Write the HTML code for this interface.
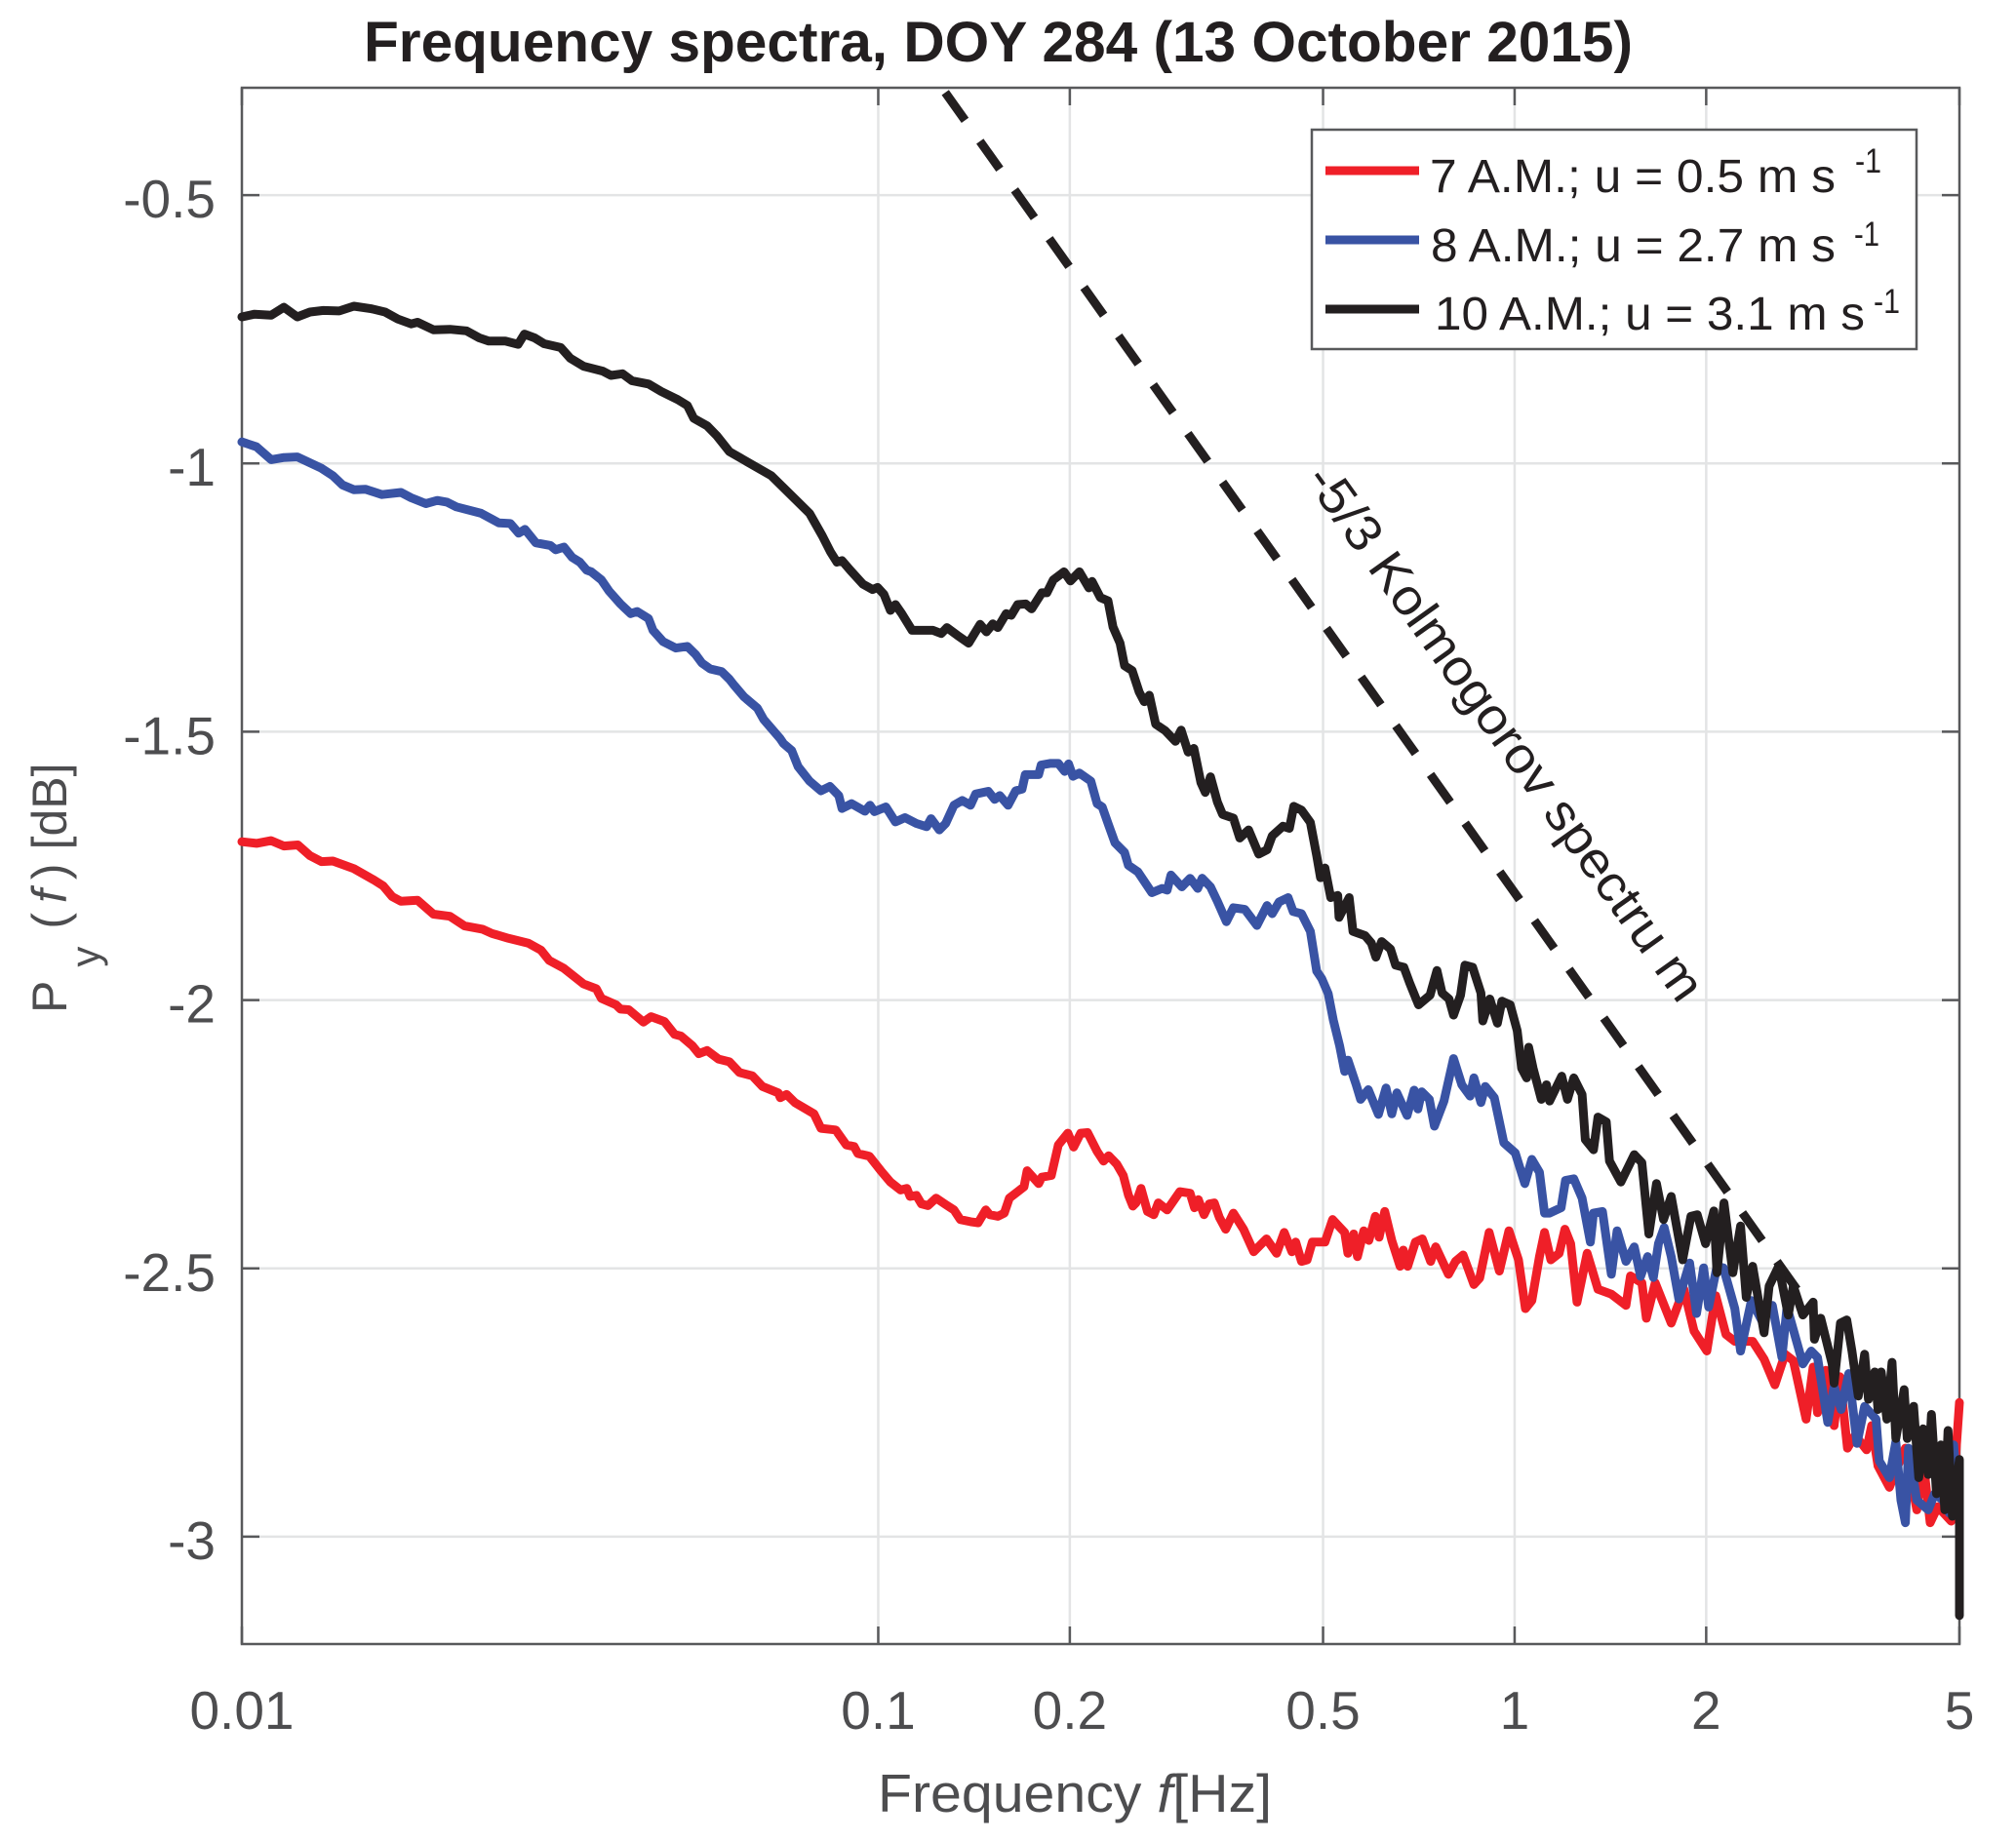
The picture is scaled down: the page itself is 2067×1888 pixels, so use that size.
<!DOCTYPE html>
<html lang="en">
<head>
<meta charset="utf-8">
<title>Frequency spectra, DOY 284</title>
<style>
html,body{margin:0;padding:0;background:#fff;}
svg{display:block;font-family:"Liberation Sans",sans-serif;}
</style>
</head>
<body>
<svg id="chart" xmlns="http://www.w3.org/2000/svg" width="2067" height="1888" viewBox="0 0 2067 1888">
<rect x="0" y="0" width="2067" height="1888" fill="#ffffff"/>
<text x="373" y="63" font-size="58" font-weight="bold" fill="#231f20" textLength="1301" lengthAdjust="spacingAndGlyphs">Frequency spectra, DOY 284 (13 October 2015)</text>
<g id="grid"></g>
<g id="axes"></g>
<g id="series"></g>
<text transform="translate(1337 492) rotate(54.5)" font-size="52" fill="#231f20" textLength="662" lengthAdjust="spacingAndGlyphs">-5/3 Kolmogorov spectru m</text>
<text x="900" y="1858" font-size="55" fill="#4d4d4f" textLength="404" lengthAdjust="spacingAndGlyphs">Frequency <tspan font-style="italic">f</tspan>[Hz]</text>
<text transform="translate(68 1039) rotate(-90)" font-size="50" fill="#4d4d4f">P<tspan dx="14" dy="34" font-size="42">y</tspan><tspan dx="18" dy="-34">(</tspan><tspan dx="10" font-style="italic">f</tspan><tspan dx="10">)</tspan><tspan dx="14">[dB]</tspan></text>
<g>
  <rect x="1345" y="133" width="620" height="225" fill="#ffffff" stroke="#58595b" stroke-width="2.5"/>
  <line x1="1359" x2="1455" y1="175" y2="175" stroke="#ef1f28" stroke-width="9"/>
  <line x1="1359" x2="1455" y1="246" y2="246" stroke="#3953a4" stroke-width="9"/>
  <line x1="1359" x2="1455" y1="317" y2="317" stroke="#231f20" stroke-width="9"/>
  <text x="1466" y="197" font-size="48" fill="#231f20" textLength="416" lengthAdjust="spacingAndGlyphs">7 A.M.; u = 0.5 m s</text>
  <text x="1902" y="177" font-size="35" fill="#231f20" textLength="27" lengthAdjust="spacingAndGlyphs">-1</text>
  <text x="1467" y="268" font-size="48" fill="#231f20" textLength="415" lengthAdjust="spacingAndGlyphs">8 A.M.; u = 2.7 m s</text>
  <text x="1901" y="252" font-size="35" fill="#231f20" textLength="26" lengthAdjust="spacingAndGlyphs">-1</text>
  <text x="1471" y="338" font-size="48" fill="#231f20" textLength="441" lengthAdjust="spacingAndGlyphs">10 A.M.; u = 3.1 m s</text>
  <text x="1921" y="321" font-size="35" fill="#231f20" textLength="27" lengthAdjust="spacingAndGlyphs">-1</text>
</g>
</svg>
<script>
// Each pair: [log10 of frequency in Hz, Py(f) in dB]
const spectrum7am = [[-2.000,-1.705],[-1.977,-1.708],[-1.954,-1.703],[-1.934,-1.713],[-1.912,-1.711],[-1.893,-1.731],[-1.875,-1.742],[-1.857,-1.741],[-1.824,-1.755],[-1.793,-1.776],[-1.778,-1.787],[-1.764,-1.807],[-1.750,-1.816],[-1.724,-1.814],[-1.699,-1.840],[-1.673,-1.844],[-1.650,-1.862],[-1.622,-1.868],[-1.607,-1.876],[-1.581,-1.885],[-1.550,-1.894],[-1.530,-1.907],[-1.517,-1.926],[-1.494,-1.941],[-1.463,-1.970],[-1.443,-1.979],[-1.435,-1.997],[-1.412,-2.009],[-1.405,-2.017],[-1.392,-2.018],[-1.369,-2.041],[-1.357,-2.031],[-1.336,-2.040],[-1.320,-2.064],[-1.310,-2.067],[-1.292,-2.085],[-1.282,-2.100],[-1.269,-2.094],[-1.251,-2.110],[-1.234,-2.115],[-1.218,-2.135],[-1.198,-2.141],[-1.182,-2.161],[-1.157,-2.173],[-1.154,-2.182],[-1.144,-2.176],[-1.131,-2.191],[-1.111,-2.205],[-1.101,-2.212],[-1.090,-2.239],[-1.067,-2.242],[-1.050,-2.270],[-1.038,-2.273],[-1.032,-2.286],[-1.014,-2.291],[-0.996,-2.318],[-0.981,-2.339],[-0.965,-2.354],[-0.955,-2.351],[-0.950,-2.366],[-0.940,-2.364],[-0.932,-2.380],[-0.922,-2.383],[-0.909,-2.369],[-0.894,-2.381],[-0.881,-2.391],[-0.871,-2.409],[-0.855,-2.413],[-0.843,-2.415],[-0.831,-2.391],[-0.825,-2.400],[-0.812,-2.403],[-0.802,-2.397],[-0.794,-2.369],[-0.784,-2.360],[-0.771,-2.348],[-0.766,-2.318],[-0.748,-2.342],[-0.743,-2.330],[-0.728,-2.327],[-0.717,-2.270],[-0.702,-2.248],[-0.693,-2.274],[-0.682,-2.248],[-0.671,-2.247],[-0.656,-2.282],[-0.646,-2.300],[-0.638,-2.290],[-0.625,-2.306],[-0.615,-2.327],[-0.607,-2.363],[-0.600,-2.384],[-0.595,-2.378],[-0.587,-2.351],[-0.577,-2.394],[-0.567,-2.400],[-0.560,-2.378],[-0.546,-2.391],[-0.526,-2.357],[-0.510,-2.360],[-0.503,-2.387],[-0.497,-2.372],[-0.488,-2.400],[-0.480,-2.380],[-0.472,-2.378],[-0.464,-2.405],[-0.454,-2.427],[-0.442,-2.397],[-0.426,-2.427],[-0.410,-2.469],[-0.390,-2.445],[-0.374,-2.472],[-0.362,-2.433],[-0.350,-2.469],[-0.344,-2.451],[-0.335,-2.487],[-0.326,-2.484],[-0.318,-2.451],[-0.298,-2.451],[-0.286,-2.409],[-0.267,-2.433],[-0.262,-2.472],[-0.253,-2.436],[-0.247,-2.478],[-0.237,-2.430],[-0.229,-2.448],[-0.219,-2.403],[-0.213,-2.442],[-0.204,-2.394],[-0.193,-2.448],[-0.180,-2.496],[-0.175,-2.466],[-0.168,-2.496],[-0.156,-2.451],[-0.145,-2.445],[-0.132,-2.487],[-0.124,-2.460],[-0.104,-2.511],[-0.093,-2.487],[-0.081,-2.475],[-0.064,-2.530],[-0.055,-2.518],[-0.040,-2.433],[-0.024,-2.505],[-0.009,-2.430],[0.006,-2.484],[0.017,-2.575],[0.027,-2.560],[0.039,-2.478],[0.047,-2.433],[0.057,-2.484],[0.070,-2.472],[0.079,-2.427],[0.088,-2.454],[0.098,-2.563],[0.114,-2.472],[0.131,-2.539],[0.152,-2.548],[0.175,-2.569],[0.182,-2.514],[0.200,-2.527],[0.207,-2.593],[0.221,-2.527],[0.246,-2.602],[0.266,-2.539],[0.282,-2.617],[0.302,-2.654],[0.316,-2.551],[0.332,-2.623],[0.346,-2.636],[0.374,-2.636],[0.392,-2.669],[0.409,-2.717],[0.425,-2.660],[0.438,-2.672],[0.458,-2.781],[0.469,-2.684],[0.476,-2.769],[0.489,-2.690],[0.502,-2.793],[0.511,-2.702],[0.523,-2.835],[0.535,-2.811],[0.553,-2.838],[0.561,-2.793],[0.571,-2.868],[0.589,-2.908],[0.601,-2.871],[0.614,-2.835],[0.632,-2.950],[0.642,-2.859],[0.653,-2.974],[0.665,-2.944],[0.686,-2.971],[0.699,-2.750]];

const spectrum8am = [[-2.000,-0.960],[-1.977,-0.969],[-1.954,-0.993],[-1.934,-0.989],[-1.913,-0.988],[-1.875,-1.009],[-1.857,-1.023],[-1.842,-1.040],[-1.824,-1.049],[-1.806,-1.048],[-1.780,-1.058],[-1.750,-1.054],[-1.734,-1.064],[-1.711,-1.075],[-1.693,-1.069],[-1.678,-1.072],[-1.663,-1.081],[-1.624,-1.093],[-1.596,-1.111],[-1.578,-1.112],[-1.565,-1.130],[-1.555,-1.123],[-1.538,-1.148],[-1.515,-1.153],[-1.507,-1.161],[-1.494,-1.156],[-1.481,-1.175],[-1.469,-1.184],[-1.458,-1.199],[-1.451,-1.202],[-1.435,-1.217],[-1.423,-1.238],[-1.405,-1.262],[-1.389,-1.280],[-1.379,-1.276],[-1.361,-1.289],[-1.354,-1.311],[-1.338,-1.332],[-1.318,-1.344],[-1.300,-1.341],[-1.287,-1.356],[-1.277,-1.372],[-1.264,-1.383],[-1.246,-1.388],[-1.234,-1.402],[-1.226,-1.414],[-1.211,-1.435],[-1.190,-1.456],[-1.180,-1.477],[-1.154,-1.513],[-1.149,-1.522],[-1.136,-1.535],[-1.126,-1.565],[-1.108,-1.592],[-1.090,-1.610],[-1.076,-1.602],[-1.062,-1.619],[-1.057,-1.643],[-1.042,-1.634],[-1.021,-1.648],[-1.013,-1.637],[-1.006,-1.649],[-0.988,-1.640],[-0.973,-1.668],[-0.958,-1.660],[-0.940,-1.671],[-0.924,-1.677],[-0.917,-1.662],[-0.904,-1.683],[-0.894,-1.671],[-0.881,-1.637],[-0.868,-1.628],[-0.855,-1.637],[-0.847,-1.616],[-0.827,-1.611],[-0.817,-1.626],[-0.809,-1.619],[-0.796,-1.637],[-0.784,-1.610],[-0.774,-1.607],[-0.769,-1.580],[-0.748,-1.580],[-0.744,-1.562],[-0.730,-1.559],[-0.717,-1.559],[-0.707,-1.574],[-0.701,-1.560],[-0.694,-1.583],[-0.684,-1.577],[-0.666,-1.592],[-0.656,-1.634],[-0.648,-1.640],[-0.638,-1.674],[-0.628,-1.707],[-0.613,-1.725],[-0.607,-1.749],[-0.592,-1.761],[-0.570,-1.800],[-0.554,-1.792],[-0.546,-1.795],[-0.540,-1.767],[-0.523,-1.789],[-0.510,-1.773],[-0.498,-1.792],[-0.491,-1.773],[-0.478,-1.789],[-0.467,-1.816],[-0.453,-1.854],[-0.442,-1.828],[-0.424,-1.831],[-0.405,-1.861],[-0.389,-1.824],[-0.381,-1.839],[-0.370,-1.817],[-0.356,-1.809],[-0.348,-1.835],[-0.335,-1.839],[-0.321,-1.872],[-0.311,-1.946],[-0.303,-1.960],[-0.293,-1.988],[-0.285,-2.037],[-0.275,-2.085],[-0.267,-2.133],[-0.262,-2.112],[-0.249,-2.158],[-0.242,-2.185],[-0.230,-2.167],[-0.214,-2.213],[-0.202,-2.164],[-0.193,-2.212],[-0.185,-2.173],[-0.169,-2.215],[-0.158,-2.168],[-0.152,-2.203],[-0.146,-2.171],[-0.134,-2.185],[-0.126,-2.235],[-0.111,-2.188],[-0.096,-2.109],[-0.083,-2.158],[-0.070,-2.179],[-0.064,-2.145],[-0.053,-2.191],[-0.046,-2.161],[-0.032,-2.182],[-0.017,-2.266],[0.001,-2.285],[0.016,-2.342],[0.027,-2.297],[0.039,-2.321],[0.047,-2.397],[0.055,-2.397],[0.073,-2.387],[0.080,-2.336],[0.093,-2.333],[0.106,-2.369],[0.119,-2.451],[0.124,-2.397],[0.138,-2.394],[0.152,-2.511],[0.161,-2.430],[0.175,-2.487],[0.188,-2.460],[0.198,-2.515],[0.209,-2.478],[0.218,-2.517],[0.226,-2.454],[0.235,-2.424],[0.246,-2.478],[0.258,-2.557],[0.275,-2.490],[0.286,-2.584],[0.297,-2.499],[0.305,-2.572],[0.318,-2.496],[0.328,-2.499],[0.346,-2.575],[0.355,-2.654],[0.372,-2.560],[0.389,-2.599],[0.405,-2.569],[0.420,-2.666],[0.428,-2.572],[0.453,-2.678],[0.466,-2.654],[0.476,-2.666],[0.492,-2.787],[0.502,-2.720],[0.513,-2.763],[0.525,-2.696],[0.538,-2.826],[0.550,-2.757],[0.568,-2.781],[0.573,-2.859],[0.589,-2.890],[0.599,-2.823],[0.607,-2.932],[0.614,-2.974],[0.619,-2.835],[0.632,-2.932],[0.650,-2.950],[0.660,-2.920],[0.673,-2.932],[0.683,-2.956],[0.690,-2.829],[0.699,-2.968]];

const spectrum10am = [[-2.000,-0.727],[-1.980,-0.722],[-1.954,-0.724],[-1.934,-0.709],[-1.913,-0.727],[-1.893,-0.718],[-1.872,-0.715],[-1.847,-0.716],[-1.824,-0.707],[-1.796,-0.712],[-1.775,-0.718],[-1.755,-0.731],[-1.734,-0.740],[-1.724,-0.737],[-1.699,-0.751],[-1.673,-0.750],[-1.647,-0.753],[-1.627,-0.766],[-1.612,-0.772],[-1.586,-0.772],[-1.566,-0.778],[-1.556,-0.759],[-1.540,-0.766],[-1.525,-0.777],[-1.499,-0.784],[-1.484,-0.804],[-1.463,-0.819],[-1.433,-0.828],[-1.420,-0.836],[-1.402,-0.833],[-1.387,-0.846],[-1.361,-0.852],[-1.341,-0.866],[-1.315,-0.881],[-1.300,-0.892],[-1.290,-0.916],[-1.269,-0.930],[-1.254,-0.948],[-1.234,-0.978],[-1.168,-1.023],[-1.108,-1.093],[-1.088,-1.135],[-1.075,-1.165],[-1.065,-1.184],[-1.057,-1.181],[-1.044,-1.199],[-1.024,-1.225],[-1.009,-1.235],[-1.001,-1.231],[-0.991,-1.244],[-0.981,-1.274],[-0.973,-1.263],[-0.963,-1.280],[-0.947,-1.311],[-0.927,-1.311],[-0.914,-1.311],[-0.901,-1.317],[-0.892,-1.306],[-0.876,-1.320],[-0.858,-1.335],[-0.840,-1.300],[-0.830,-1.314],[-0.820,-1.299],[-0.812,-1.306],[-0.799,-1.280],[-0.791,-1.283],[-0.781,-1.263],[-0.768,-1.262],[-0.759,-1.271],[-0.743,-1.241],[-0.735,-1.241],[-0.725,-1.217],[-0.708,-1.202],[-0.698,-1.219],[-0.684,-1.202],[-0.669,-1.232],[-0.664,-1.220],[-0.651,-1.250],[-0.639,-1.256],[-0.631,-1.305],[-0.620,-1.335],[-0.613,-1.377],[-0.601,-1.386],[-0.590,-1.426],[-0.582,-1.444],[-0.574,-1.432],[-0.564,-1.486],[-0.549,-1.498],[-0.533,-1.518],[-0.524,-1.497],[-0.513,-1.538],[-0.504,-1.531],[-0.493,-1.595],[-0.486,-1.613],[-0.478,-1.584],[-0.467,-1.631],[-0.459,-1.654],[-0.442,-1.661],[-0.432,-1.698],[-0.418,-1.683],[-0.402,-1.728],[-0.389,-1.720],[-0.381,-1.694],[-0.364,-1.676],[-0.354,-1.680],[-0.347,-1.639],[-0.335,-1.646],[-0.321,-1.669],[-0.311,-1.731],[-0.305,-1.772],[-0.298,-1.754],[-0.289,-1.809],[-0.278,-1.805],[-0.276,-1.846],[-0.260,-1.809],[-0.254,-1.872],[-0.235,-1.880],[-0.225,-1.894],[-0.218,-1.920],[-0.209,-1.891],[-0.195,-1.905],[-0.187,-1.935],[-0.174,-1.939],[-0.165,-1.968],[-0.151,-2.009],[-0.133,-1.991],[-0.122,-1.945],[-0.114,-1.987],[-0.103,-1.998],[-0.096,-2.028],[-0.085,-1.991],[-0.078,-1.935],[-0.066,-1.939],[-0.053,-1.987],[-0.050,-2.039],[-0.039,-1.998],[-0.027,-2.043],[-0.020,-2.002],[-0.007,-2.009],[0.004,-2.057],[0.011,-2.127],[0.019,-2.145],[0.022,-2.088],[0.029,-2.127],[0.042,-2.185],[0.050,-2.158],[0.055,-2.188],[0.074,-2.142],[0.083,-2.185],[0.093,-2.145],[0.106,-2.176],[0.111,-2.260],[0.124,-2.279],[0.131,-2.218],[0.144,-2.227],[0.149,-2.300],[0.167,-2.339],[0.188,-2.288],[0.200,-2.303],[0.211,-2.436],[0.223,-2.342],[0.234,-2.409],[0.246,-2.366],[0.264,-2.484],[0.277,-2.403],[0.287,-2.400],[0.300,-2.454],[0.313,-2.393],[0.318,-2.508],[0.329,-2.378],[0.343,-2.508],[0.355,-2.421],[0.364,-2.554],[0.374,-2.496],[0.392,-2.620],[0.400,-2.533],[0.415,-2.496],[0.430,-2.587],[0.438,-2.533],[0.453,-2.587],[0.469,-2.563],[0.471,-2.632],[0.481,-2.593],[0.499,-2.678],[0.502,-2.714],[0.512,-2.602],[0.522,-2.596],[0.530,-2.654],[0.540,-2.738],[0.550,-2.660],[0.556,-2.744],[0.566,-2.693],[0.571,-2.763],[0.576,-2.693],[0.585,-2.781],[0.593,-2.675],[0.599,-2.817],[0.612,-2.726],[0.617,-2.817],[0.627,-2.757],[0.635,-2.890],[0.642,-2.799],[0.650,-2.884],[0.655,-2.772],[0.663,-2.920],[0.670,-2.829],[0.676,-2.950],[0.681,-2.802],[0.688,-2.962],[0.699,-2.856],[0.699,-3.147]];

const kolmogorovLogFreq = [-0.9, 0.45];
const kolmogorovIntercept = -1.8;
const kolmogorovSlope = -5 / 3;

const xTickValues = [0.01, 0.1, 0.2, 0.5, 1, 2, 5];
const xTickLabels = ["0.01", "0.1", "0.2", "0.5", "1", "2", "5"];
const yTickValues = [-0.5, -1, -1.5, -2, -2.5, -3];
const yTickLabels = ["-0.5", "-1", "-1.5", "-2", "-2.5", "-3"];

const xLogDomain = [-2, Math.log10(5)];
const yDomain = [-3.2, -0.3];
const plotLeft = 248, plotRight = 2009, plotTop = 90, plotBottom = 1686;

function xScale(logF) {
  return plotLeft + (logF - xLogDomain[0]) / (xLogDomain[1] - xLogDomain[0]) * (plotRight - plotLeft);
}
function yScale(v) {
  return plotBottom - (v - yDomain[0]) / (yDomain[1] - yDomain[0]) * (plotBottom - plotTop);
}

const NS = "http://www.w3.org/2000/svg";
const gridGroup = document.getElementById("grid");
const axesGroup = document.getElementById("axes");
const seriesGroup = document.getElementById("series");

function makeLine(x1, y1, x2, y2, stroke, width) {
  const el = document.createElementNS(NS, "line");
  el.setAttribute("x1", x1);
  el.setAttribute("y1", y1);
  el.setAttribute("x2", x2);
  el.setAttribute("y2", y2);
  el.setAttribute("stroke", stroke);
  el.setAttribute("stroke-width", width);
  return el;
}

xTickValues.forEach(function (f, i) {
  const x = xScale(Math.log10(f));
  if (i > 0 && i < xTickValues.length - 1) {
    const gridLine = makeLine(x, plotTop, x, plotBottom, "#e3e4e5", 2.5);
    
    
    gridGroup.appendChild(gridLine);
  }
  const tickBottom = makeLine(x, plotBottom, x, plotBottom - 18, "#58595b", 2.5);
  
  
  axesGroup.appendChild(tickBottom);
  const tickTop = makeLine(x, plotTop, x, plotTop + 18, "#58595b", 2.5);
  
  
  axesGroup.appendChild(tickTop);
  const label = document.createElementNS(NS, "text");
  label.setAttribute("x", x);
  label.setAttribute("y", 1773);
  label.setAttribute("text-anchor", "middle");
  label.setAttribute("font-size", "55");
  label.setAttribute("fill", "#4d4d4f");
  label.textContent = xTickLabels[i];
  
  
  axesGroup.appendChild(label);
});

yTickValues.forEach(function (v, i) {
  const y = yScale(v);
  const gridLine = makeLine(plotLeft, y, plotRight, y, "#e3e4e5", 2.5);
  
  
  gridGroup.appendChild(gridLine);
  const tickLeft = makeLine(plotLeft, y, plotLeft + 18, y, "#58595b", 2.5);
  
  
  axesGroup.appendChild(tickLeft);
  const tickRight = makeLine(plotRight, y, plotRight - 18, y, "#58595b", 2.5);
  
  
  axesGroup.appendChild(tickRight);
  const label = document.createElementNS(NS, "text");
  label.setAttribute("x", 221);
  label.setAttribute("y", y + 23);
  label.setAttribute("text-anchor", "end");
  label.setAttribute("font-size", "55");
  label.setAttribute("fill", "#4d4d4f");
  label.textContent = yTickLabels[i];
  
  
  axesGroup.appendChild(label);
});

const frame = document.createElementNS(NS, "rect");
frame.setAttribute("x", plotLeft);
frame.setAttribute("y", plotTop);
frame.setAttribute("width", plotRight - plotLeft);
frame.setAttribute("height", plotBottom - plotTop);
frame.setAttribute("fill", "none");
frame.setAttribute("stroke", "#58595b");
frame.setAttribute("stroke-width", "2.5");


axesGroup.appendChild(frame);

const kolmogorovLine = makeLine(
  xScale(kolmogorovLogFreq[0]),
  yScale(kolmogorovIntercept + kolmogorovSlope * kolmogorovLogFreq[0]),
  xScale(kolmogorovLogFreq[1]),
  yScale(kolmogorovIntercept + kolmogorovSlope * kolmogorovLogFreq[1]),
  "#231f20", 9);
kolmogorovLine.setAttribute("stroke-dasharray", "35 26.3");
kolmogorovLine.setAttribute("stroke-dashoffset", "-6");


seriesGroup.appendChild(kolmogorovLine);

function makeSeries(points, colour) {
  const el = document.createElementNS(NS, "polyline");
  el.setAttribute("points", points.map(function (p) {
    return xScale(p[0]).toFixed(1) + "," + yScale(p[1]).toFixed(1);
  }).join(" "));
  el.setAttribute("fill", "none");
  el.setAttribute("stroke", colour);
  el.setAttribute("stroke-width", "9");
  el.setAttribute("stroke-linejoin", "round");
  el.setAttribute("stroke-linecap", "round");
  return el;
}

const line7am = makeSeries(spectrum7am, "#ef1f28");


seriesGroup.appendChild(line7am);

const line8am = makeSeries(spectrum8am, "#3953a4");


seriesGroup.appendChild(line8am);

const line10am = makeSeries(spectrum10am, "#231f20");


seriesGroup.appendChild(line10am);
</script>
</body>
</html>
